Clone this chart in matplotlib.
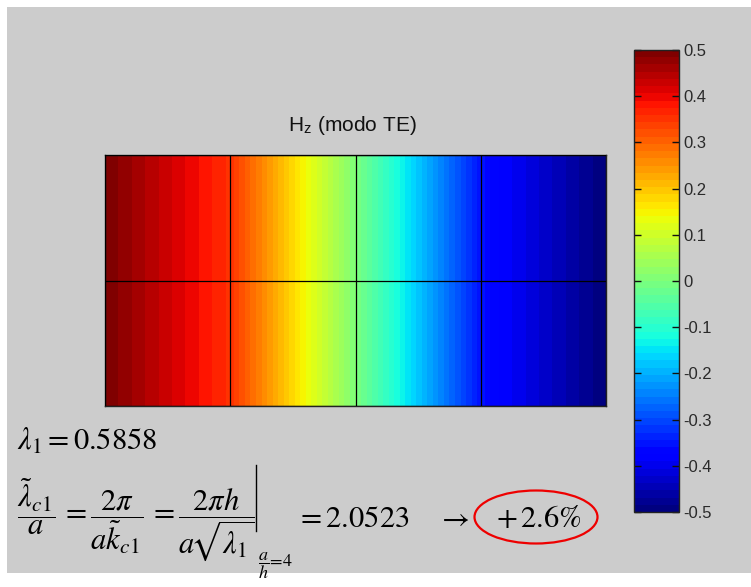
import numpy as np
import matplotlib
matplotlib.use("Agg")
import matplotlib.pyplot as plt
from matplotlib.patches import Rectangle, Ellipse
from matplotlib.lines import Line2D
from matplotlib.colors import Normalize
from matplotlib.cm import ScalarMappable

plt.rcParams['font.family'] = ['Liberation Sans', 'DejaVu Sans']
plt.rcParams['mathtext.fontset'] = 'stix'

# ---- data ----
x_nodes = [0, 1, 2, 3, 4]
y_nodes = [0, 1, 2]
hz_values = [
    [0.5, 0.354, 0.0, -0.354, -0.5],
    [0.5, 0.354, 0.0, -0.354, -0.5],
    [0.5, 0.354, 0.0, -0.354, -0.5],
]
cbar_ticks = [-0.5, -0.4, -0.3, -0.2, -0.1, 0.0, 0.1, 0.2, 0.3, 0.4, 0.5]
cbar_labels = ['-0.5', '-0.4', '-0.3', '-0.2', '-0.1', '0', '0.1', '0.2', '0.3', '0.4', '0.5']
title_text = r'H$_\mathregular{z}$ (modo TE)'
eq_line1 = r'$\lambda_1 = 0.5858$'
eq_line2 = r'$\dfrac{\tilde{\lambda}_{c1}}{a}\,= \dfrac{2\pi}{a\tilde{k}_{c1}}\,= \dfrac{2\pi h}{a\!\sqrt{\lambda_1}}$'
eq_sub = r'$\dfrac{a}{h}\!=\!4$'
eq_result = r'$=2.0523$'
eq_arrow = r'$\rightarrow$'
eq_percent = r'$+\,2.6\%$'

W, H = 751, 587
fig = plt.figure(figsize=(W / 100, H / 100), dpi=100)
fig.patch.set_facecolor('white')

def fx(x):
    return x / W

def fy(y):
    return 1 - y / H

# gray background panel
fig.patches.append(Rectangle((fx(7), fy(573)), fx(751) - fx(7), fy(7) - fy(573),
                             transform=fig.transFigure, facecolor='#cccccc',
                             edgecolor='none', zorder=-10))

cmap = plt.get_cmap('jet', 64)
norm = Normalize(-0.5, 0.5)

# main field axes
ax = fig.add_axes([fx(105), fy(406), fx(606) - fx(105), fy(155) - fy(406)])
Z = np.array(hz_values)
ax.contourf(x_nodes, y_nodes, Z, levels=np.linspace(-0.5, 0.5, 65), cmap=cmap, norm=norm)
ax.set_xlim(x_nodes[0], x_nodes[-1])
ax.set_ylim(y_nodes[0], y_nodes[-1])
ax.set_xticks(x_nodes)
ax.set_yticks(y_nodes)
ax.tick_params(length=0, labelbottom=False, labelleft=False)
ax.set_axisbelow(False)
ax.grid(True, color='black', linewidth=0.9)
for sp in ax.spines.values():
    sp.set_color('#222222')
    sp.set_linewidth(1.0)

fig.text(fx(352), fy(131), title_text, ha='center', va='baseline', fontsize=15, color='#111111')

# colorbar
cax = fig.add_axes([fx(634), fy(512), fx(679) - fx(634), fy(50) - fy(512)])
sm = ScalarMappable(norm=norm, cmap=cmap)
cb = fig.colorbar(sm, cax=cax)
cb.set_ticks(cbar_ticks)
cb.set_ticklabels(cbar_labels)
cb.outline.set_edgecolor('#222222')
cb.outline.set_linewidth(1.0)
cax.tick_params(axis='y', direction='in', left=True, right=True, length=5, width=1,
                labelsize=12, labelcolor='#2a2a2a', color='#111111', pad=3)

# equations
fig.text(fx(17), fy(450), eq_line1, ha='left', va='baseline', fontsize=22)
t2 = fig.text(fx(17), fy(522), eq_line2, ha='left', va='baseline', fontsize=22)
fig.canvas.draw()
bb = t2.get_window_extent()
xbar = bb.x1 + 2  # pixels from left
fig.lines.append(Line2D([xbar / W, xbar / W], [fy(465), fy(531)], transform=fig.transFigure,
                        color='black', linewidth=1.0))
fig.text((xbar + 2) / W, fy(567), eq_sub, ha='left', va='baseline', fontsize=13)
fig.text(fx(296), fy(527), eq_result, ha='left', va='baseline', fontsize=22)
fig.text(fx(437), fy(527), eq_arrow, ha='left', va='baseline', fontsize=22)
fig.text(fx(496), fy(527), eq_percent, ha='left', va='baseline', fontsize=22)
fig.patches.append(Ellipse((fx(536), fy(517)), fx(123), 53 / H, transform=fig.transFigure,
                           facecolor='none', edgecolor='#ee0000', linewidth=1.6, zorder=5))

fig.savefig('out.png', dpi=100)
